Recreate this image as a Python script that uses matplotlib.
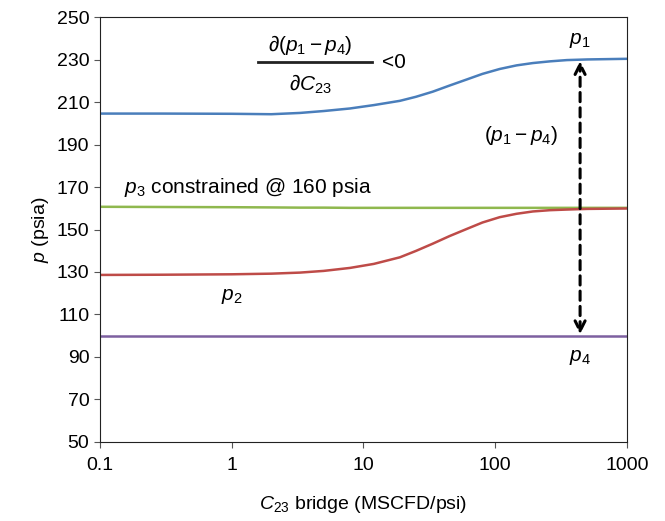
import numpy as np
import matplotlib
matplotlib.use("Agg")
import matplotlib.pyplot as plt

plt.rcParams['font.family'] = ['Liberation Sans', 'DejaVu Sans']
plt.rcParams['mathtext.fontset'] = 'custom'
plt.rcParams['mathtext.rm'] = 'Liberation Sans'
plt.rcParams['mathtext.it'] = 'Liberation Sans:italic'

# bridge conductance C23 (MSCFD/psi)
c23 = [0.1, 0.3, 1, 2, 3.3, 5, 7.9, 12, 18.9, 25, 33.5, 45, 61, 80, 108, 145, 193, 260, 350, 500, 1000]
p1 = [204.6, 204.6, 204.5, 204.3, 204.9, 205.8, 207.0, 208.6, 210.6, 212.5, 214.9, 217.8, 220.7, 223.3, 225.6, 227.3, 228.4, 229.2, 229.8, 230.1, 230.4]
p2 = [128.6, 128.7, 128.9, 129.2, 129.7, 130.5, 131.9, 133.8, 136.9, 139.9, 143.3, 146.9, 150.3, 153.3, 155.8, 157.4, 158.5, 159.1, 159.4, 159.7, 159.9]
p3 = [160.7, 160.6, 160.5, 160.4, 160.3, 160.3, 160.2, 160.2, 160.2, 160.2, 160.2, 160.2, 160.2, 160.2, 160.2, 160.2, 160.2, 160.2, 160.2, 160.2, 160.2]
p4 = [100.0] * len(c23)

arrow_x = 440
arrow_top, arrow_bot = 230, 100

fig, ax = plt.subplots(figsize=(6.65, 5.21), dpi=100)
fig.subplots_adjust(left=0.150, right=0.943, top=0.967, bottom=0.152)

ax.plot(c23, p1, color='#4a7ebb', lw=1.8)
ax.plot(c23, p3, color='#8fb84e', lw=1.8)
ax.plot(c23, p2, color='#be4b48', lw=1.8)
ax.plot(c23, p4, color='#7d60a0', lw=1.8)

ax.annotate('', xy=(arrow_x, arrow_top), xytext=(arrow_x, arrow_bot),
            arrowprops=dict(arrowstyle='<->', ls=(0, (3, 2)), lw=2.2, color='black',
                            mutation_scale=18, shrinkA=1, shrinkB=1))

ax.set_xscale('log')
ax.set_xlim(0.1, 1000)
ax.set_ylim(50, 250)
ax.set_yticks(np.arange(50, 251, 20))
ax.set_xticks([0.1, 1, 10, 100, 1000])
ax.set_xticklabels(['0.1', '1', '10', '100', '1000'])
ax.minorticks_off()
ax.tick_params(labelsize=14, length=4, color='#555555')
ax.tick_params(axis='x', pad=7)
for s in ax.spines.values():
    s.set_color('#222222')

ax.set_xlabel(r'$C_{23}$ bridge (MSCFD/psi)', fontsize=14, labelpad=14)
ax.set_ylabel(r'$p$ (psia)', fontsize=14, labelpad=4)

fs = 15
tr = ax.transAxes
ax.text(0.400, 0.935, r'$\partial(p_1 - p_4)$', transform=tr, fontsize=fs, ha='center', va='center')
ax.plot([0.300, 0.517], [0.894, 0.894], transform=tr, color='#222222', lw=2)
ax.text(0.400, 0.842, r'$\partial C_{23}$', transform=tr, fontsize=fs, ha='center', va='center')
ax.text(0.535, 0.894, '<0', transform=tr, fontsize=fs, ha='left', va='center')
ax.text(0.91, 0.945, r'$p_1$', transform=tr, fontsize=fs, ha='center', va='center')
ax.text(0.80, 0.722, r'$(p_1 - p_4)$', transform=tr, fontsize=fs, ha='center', va='center')
ax.text(0.046, 0.600, r'$p_3$ constrained @ 160 psia', transform=tr, fontsize=fs, ha='left', va='center')
ax.text(0.250, 0.342, r'$p_2$', transform=tr, fontsize=fs, ha='center', va='center')
ax.text(0.91, 0.198, r'$p_4$', transform=tr, fontsize=fs, ha='center', va='center')

fig.savefig('out.png', dpi=100)
